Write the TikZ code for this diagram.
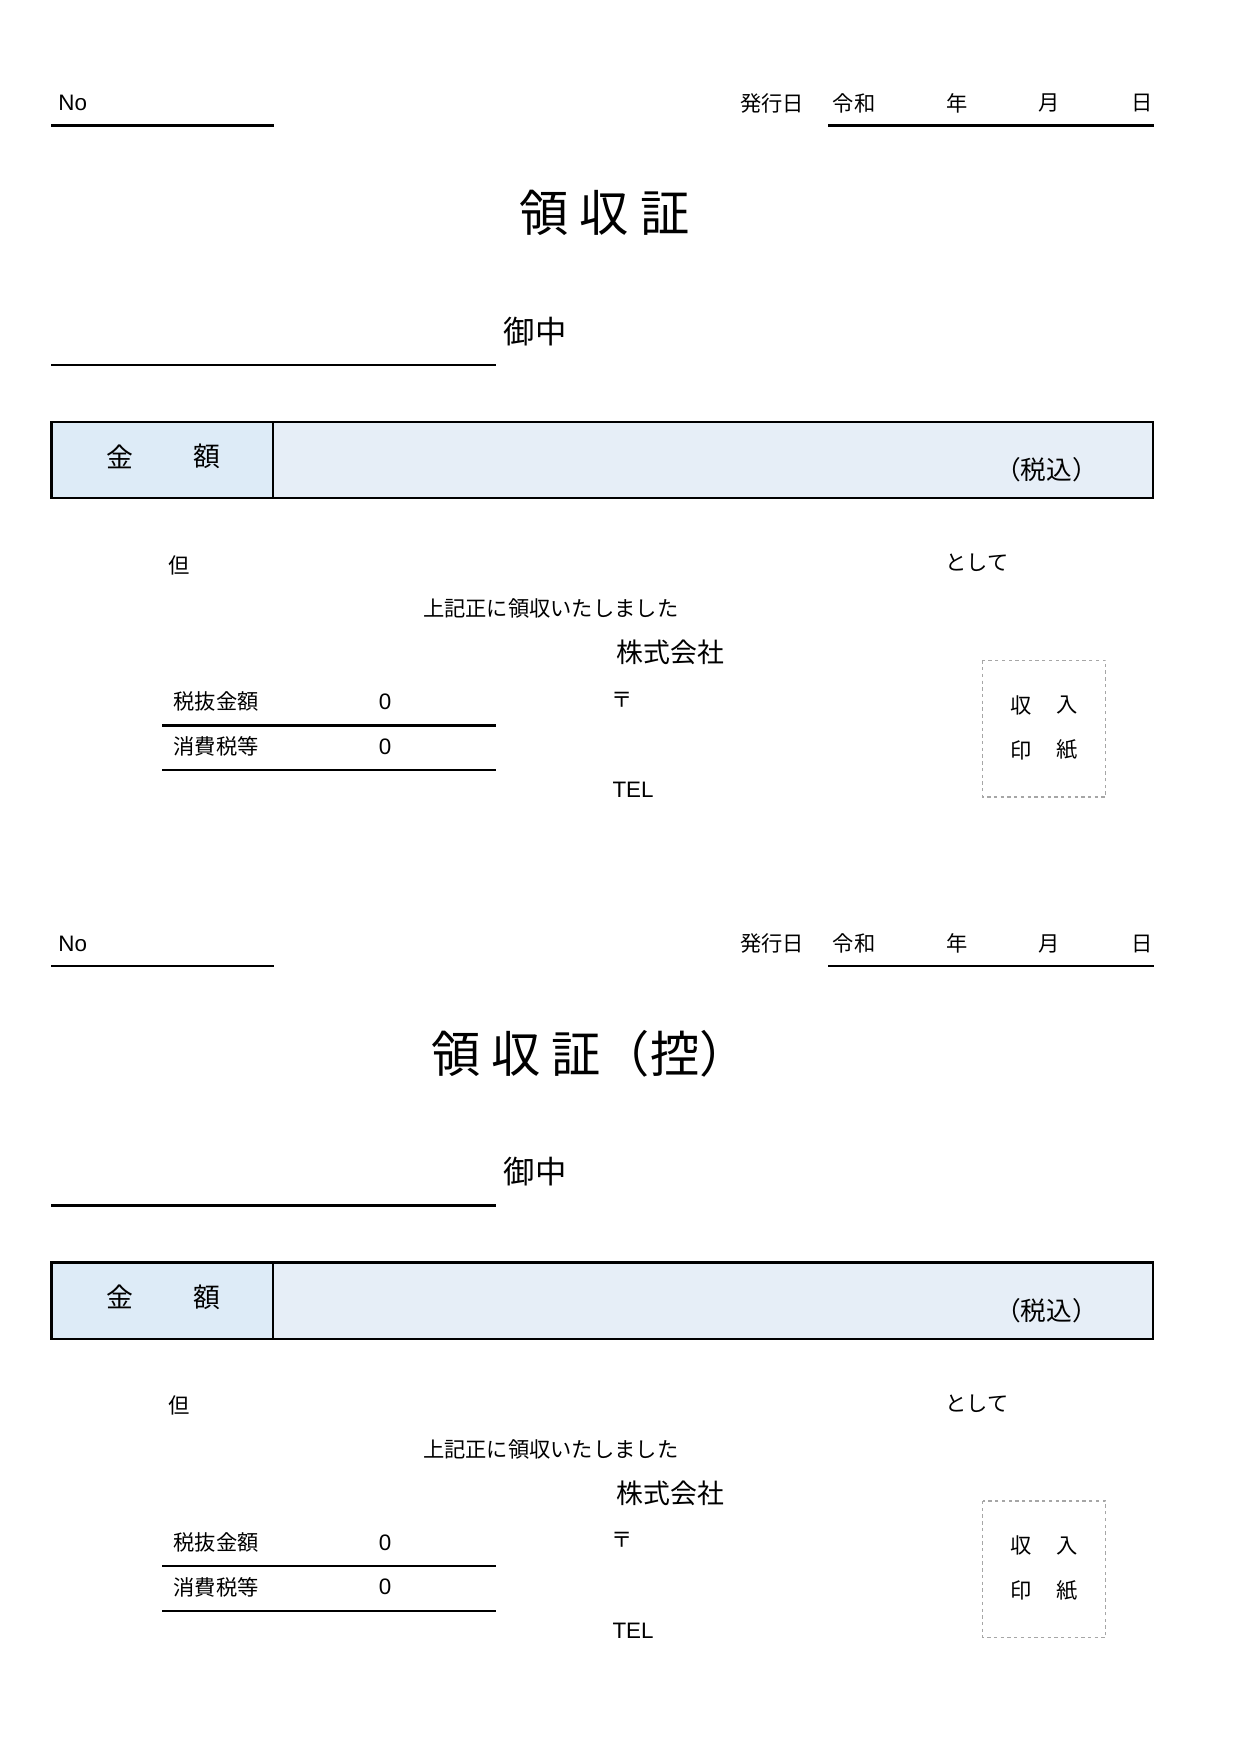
\documentclass[tikz,border=0pt]{standalone}
\usepackage{fontspec}
\setmainfont{Noto Sans CJK JP}
\newfontfamily\latinf{Liberation Sans}
\definecolor{lbl}{HTML}{DDEBF7}
\definecolor{lbr}{HTML}{E6EEF7}
\tikzset{x=1pt,y=-1pt,
 t/.style={inner sep=0pt,font=\fontsize{19}{19}\selectfont},
 rl/.style={line width=2.2pt},
 bx/.style={draw,line width=2.2pt}}
\newcommand\receipt[3]{%
\begin{scope}[shift={(0,#1)}]
\node[t,anchor=west,font=\latinf\fontsize{20}{20}\selectfont] (no) at (52,92) {No};
\draw[rl] (46,112) -- (245,112);
\node[t] (hk) at (690,92) {発行日};
\node[t] (rw) at (763,92) {令和};
\node[t] (yr) at (855,92) {年};
\node[t] (mo) at (937,92) {月};
\node[t] (dy) at (1020,92) {日};
\draw[rl] (740,112) -- (1031,112);
\node[t,font=\fontsize{44}{44}\selectfont] (title) at (#2,190) {#3};
\node[t,font=\fontsize{28}{28}\selectfont] (oc) at (478,296) {御中};
\draw[rl] (46,326) -- (443,326);
\fill[lbl] (46,377) rectangle (244,445);
\fill[lbr] (244,377) rectangle (1030,445);
\draw[bx] (46,377) rectangle (1030,445);
\draw[line width=2.2pt] (244,377) -- (244,445);
\node[t,font=\fontsize{24}{24}\selectfont] (kin) at (107,408) {金};
\node[t,font=\fontsize{24}{24}\selectfont] (gaku) at (185,408) {額};
\node[t,font=\fontsize{23}{23}\selectfont] (zei) at (935,420) {（税込）};
\node[t] (tada) at (160,505) {但};
\node[t] (toshite) at (873,503) {として};
\node[t] (jouki) at (492,544) {上記正に領収いたしました};
\node[t,font=\fontsize{24}{24}\selectfont] (kk) at (599,583) {株式会社};
\node[t,anchor=west] (zn) at (155,627) {税抜金額};
\node[t,font=\latinf\fontsize{20}{20}\selectfont] (z0) at (344,627) {0};
\draw[rl] (145,648) -- (443,648);
\node[t,anchor=west] (sh) at (155,667) {消費税等};
\node[t,font=\latinf\fontsize{20}{20}\selectfont] (s0) at (344,667) {0};
\draw[rl] (145,688) -- (443,688);
\node[t] (yu) at (556,625) {〒};
\node[t,anchor=west,font=\latinf\fontsize{20}{20}\selectfont] (tel) at (547,706) {TEL};
\draw[gray!70,dashed,line width=1pt] (878,590) rectangle (988,712);
\node[t] (s1) at (912,630) {収};
\node[t] (s2) at (953,630) {入};
\node[t] (s3) at (912,670) {印};
\node[t] (s4) at (953,670) {紙};
\end{scope}}
\begin{document}
\begin{tikzpicture}
\useasboundingbox[fill=white] (0,0) rectangle (1108,1567);
\receipt{0}{540}{領 収 証}
\receipt{751}{527}{領 収 証（控）}
\end{tikzpicture}
\end{document}
